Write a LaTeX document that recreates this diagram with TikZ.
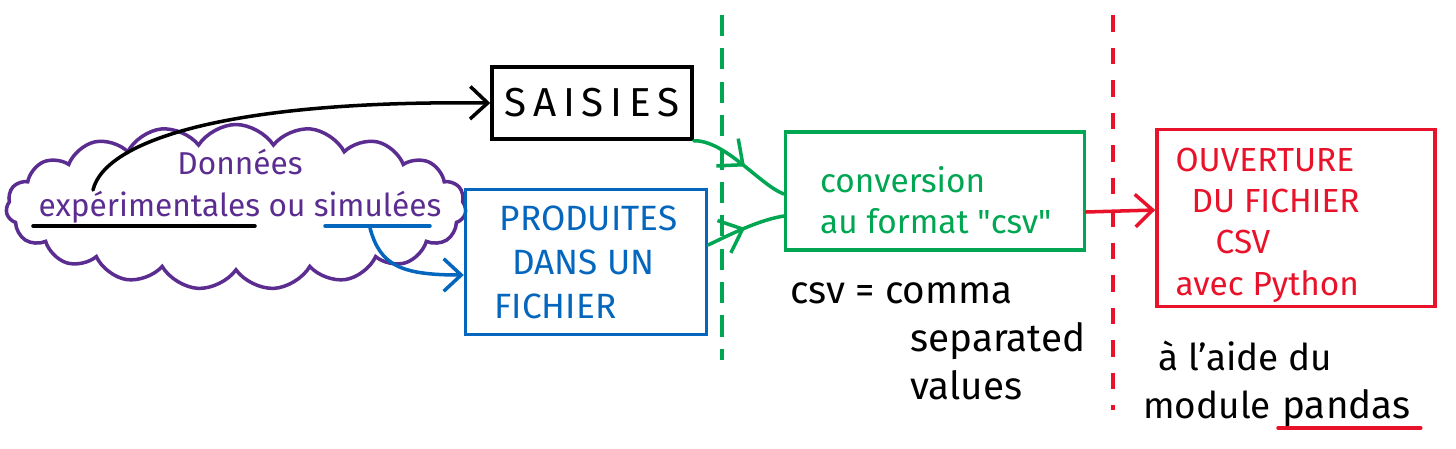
\documentclass[tikz,border=0pt]{standalone}
\usepackage{fontspec}
\setmainfont{Fira Sans}
\usetikzlibrary{positioning, arrows.meta, shapes.symbols, decorations.markings, calc}

\definecolor{mauve}{RGB}{92,45,145}
\definecolor{bleu}{RGB}{5,102,190}
\definecolor{vert}{RGB}{0,166,81}
\definecolor{rouge}{RGB}{232,19,42}

\begin{document}
\begin{tikzpicture}[
    x=0.02cm, y=-0.02cm,
    boite/.style={
      draw, rectangle, line width=2pt, inner sep=0pt,
      font=\fontsize{20}{25}\selectfont, align=left,
    },
    trait/.style={line width=2pt, line cap=round},
    fleche/.style={trait, -{Straight Barb[length=3.5mm, width=6.5mm]}},
    milieu/.style={
      trait, postaction={decorate},
      decoration={markings, mark=at position #1 with
        {\arrow{Straight Barb[length=4mm, width=7mm]}}},
    },
    separation/.style={line width=2.2pt},
    note/.style={font=\fontsize{21}{26}\selectfont, inner sep=0pt, align=left},
]
\useasboundingbox (0,0) rectangle (1456,449);

% Nuage des donnees
\node[draw=mauve, line width=2pt, cloud, cloud puffs=19, cloud puff arc=115, aspect=3,
      minimum width=9.2cm, minimum height=3.3cm] (nuage) at (236,207) {};
\node[note, text=mauve, align=center, font=\fontsize{18}{24}\selectfont] (donnees)
    at (240,186) {Données\\expérimentales ou simulées};
\coordinate (expA) at (33,226);
\coordinate (expB) at (255,226);
\coordinate (simA) at (325,226);
\coordinate (simB) at (430,226);
\coordinate (depart) at (93,190);
\coordinate (simul) at (370,228);
\draw[trait] (expA) -- (expB);
\draw[trait, bleu] (simA) -- (simB);

% Boites
\node[boite, minimum width=4cm, minimum height=1.44cm,
      font=\fontsize{23}{28}\selectfont] (saisies) at (592,103) {S\,A\,I\,S\,I\,E\,S};
\node[boite, bleu, minimum width=4.82cm, minimum height=2.9cm] (fichier) at (586,262)
    {\hspace{0.1cm}PRODUITES\\ \hspace{0.35cm}DANS UN\\ FICHIER};
\node[boite, vert, minimum width=5.98cm, minimum height=2.36cm] (conversion) at (935,191) {};
\node[note, vert, font=\fontsize{19}{23}\selectfont, anchor=west] (txtConversion)
    at ($(conversion.west)+(36,9)$) {conversion\\au format \textquotedbl csv\textquotedbl};
\node[boite, rouge, minimum width=5.56cm, minimum height=3.54cm] (ouverture) at (1296,218) {};
\node[note, rouge, font=\fontsize{19}{23.5}\selectfont, anchor=west] (txtOuverture)
    at ($(ouverture.west)+(20,7)$)
    {OUVERTURE\\ \hspace{0.32cm}DU FICHIER\\ \hspace{0.8cm}CSV\\avec Python};

% Separations
\draw[separation, vert, dash pattern=on 12pt off 7pt] (722,15) -- (722,360);
\draw[separation, rouge, dash pattern=on 9.5pt off 9pt] (1113,15) -- (1113,410);

% Fleches
\draw[fleche] (depart) .. controls (105,140) and (230,100) .. (saisies.west);
\draw[fleche, bleu] (simul) .. controls (380,265) and (400,275)
    .. ($(fichier.west)+(0,13)$);
\draw[milieu=0.55, vert] (saisies.south east) .. controls (725,140) and (760,185)
    .. ($(conversion.west)+(0,3)$);
\draw[milieu=0.5, vert] ($(fichier.east)+(0,-17)$) .. controls (735,232) and (760,220)
    .. ($(conversion.west)+(0,25)$);
\draw[fleche, rouge] ($(conversion.east)+(0,21)$) -- ($(ouverture.west)+(0,-8)$);

% Notes
\node[note, anchor=north west, font=\fontsize{22}{27.5}\selectfont] (csv) at (790,282)
    {csv = comma\\ \hspace{2.4cm}separated\\ \hspace{2.4cm}values};
\node[note, anchor=base west] (aide) at (1158,370) {à l'aide du};
\node[note, anchor=base west] (module) at (1143,418) {module};
\node[note, anchor=base west, font=\fontsize{22}{26}\selectfont] (pandas) at (1282,418) {pandas};
\draw[trait, rouge] ($(pandas.base west)+(-4,10)$) -- ($(pandas.base east)+(10,10)$);
\end{tikzpicture}
\end{document}
